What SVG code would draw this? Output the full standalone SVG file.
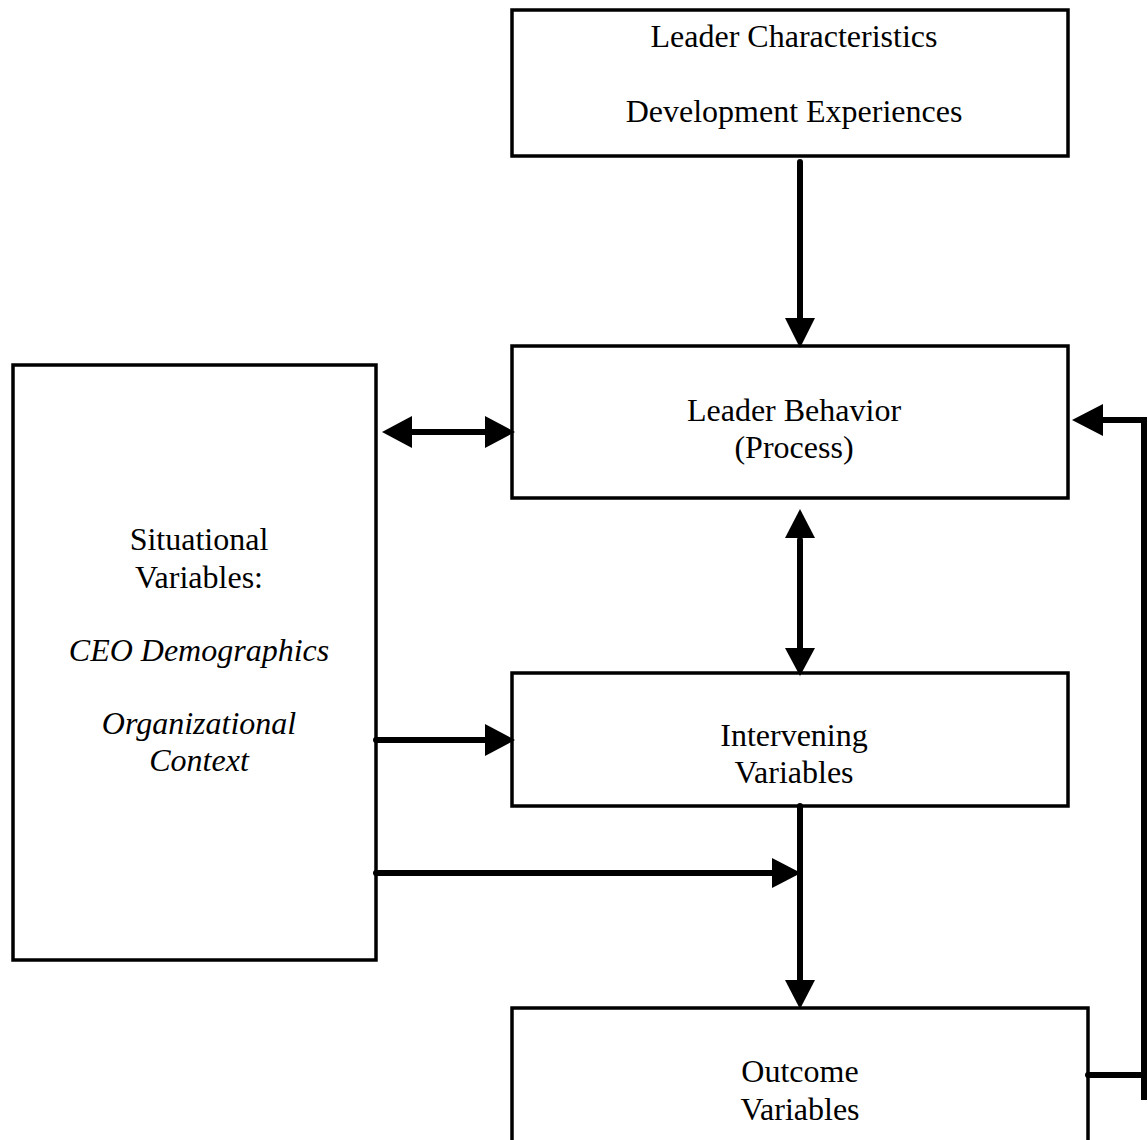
<svg xmlns="http://www.w3.org/2000/svg" width="1148" height="1140" viewBox="0 0 1148 1140">
<style>
.box{fill:#fff;stroke:#000;stroke-width:3.5}
.t{font-family:"Liberation Serif","Times New Roman",serif;font-size:32px;fill:#000;text-anchor:middle}
.i{font-style:italic}
.c{stroke:#000;stroke-width:6;fill:none;stroke-linecap:round}
.h{fill:#000;stroke:none}
</style>
<rect width="1148" height="1140" fill="#fff"/>
<g id="leader-characteristics">
<rect class="box" x="512" y="10" width="556" height="146"/>
<text class="t" x="794" y="47">Leader Characteristics</text>
<text class="t" x="794" y="122">Development Experiences</text>
</g>
<g id="leader-behavior">
<rect class="box" x="512" y="346" width="556" height="152"/>
<text class="t" x="794" y="421">Leader Behavior</text>
<text class="t" x="794" y="458">(Process)</text>
</g>
<g id="situational-variables">
<rect class="box" x="13" y="365" width="363" height="595"/>
<text class="t" x="199" y="550">Situational</text>
<text class="t" x="199" y="588">Variables:</text>
<text class="t i" x="199" y="661">CEO Demographics</text>
<text class="t i" x="199" y="734">Organizational</text>
<text class="t i" x="199" y="771">Context</text>
</g>
<g id="intervening-variables">
<rect class="box" x="512" y="673" width="556" height="133"/>
<text class="t" x="794" y="746">Intervening</text>
<text class="t" x="794" y="783">Variables</text>
</g>
<g id="outcome-variables">
<rect class="box" x="512" y="1008" width="576" height="140"/>
<text class="t" x="800" y="1082">Outcome</text>
<text class="t" x="800" y="1120">Variables</text>
</g>
<g id="connectors">
<line class="c" x1="800" y1="162" x2="800" y2="320"/>
<polygon class="h" points="785,318 815,318 800,348"/>
<line class="c" x1="410" y1="432" x2="487" y2="432"/>
<polygon class="h" points="382,432 412,416 412,448"/>
<polygon class="h" points="515,432 485,416 485,448"/>
<line class="c" x1="800" y1="540" x2="800" y2="650"/>
<polygon class="h" points="800,509 785,538 815,538"/>
<polygon class="h" points="800,676 785,648 815,648"/>
<line class="c" x1="376" y1="740" x2="487" y2="740"/>
<polygon class="h" points="515,740 485,724 485,756"/>
<line class="c" x1="376" y1="873" x2="773" y2="873"/>
<polygon class="h" points="801,873 772,858 772,888"/>
<line class="c" x1="800" y1="806" x2="800" y2="982"/>
<polygon class="h" points="785,980 815,980 800,1009"/>
<polyline class="c" points="1088,1075 1144,1075 1144,420 1100,420" stroke-linecap="butt"/>
<line x1="1144" y1="1075" x2="1144" y2="1100" stroke="#000" stroke-width="6"/>
<polygon class="h" points="1072,420 1103,404 1103,436"/>
</g>
</svg>
